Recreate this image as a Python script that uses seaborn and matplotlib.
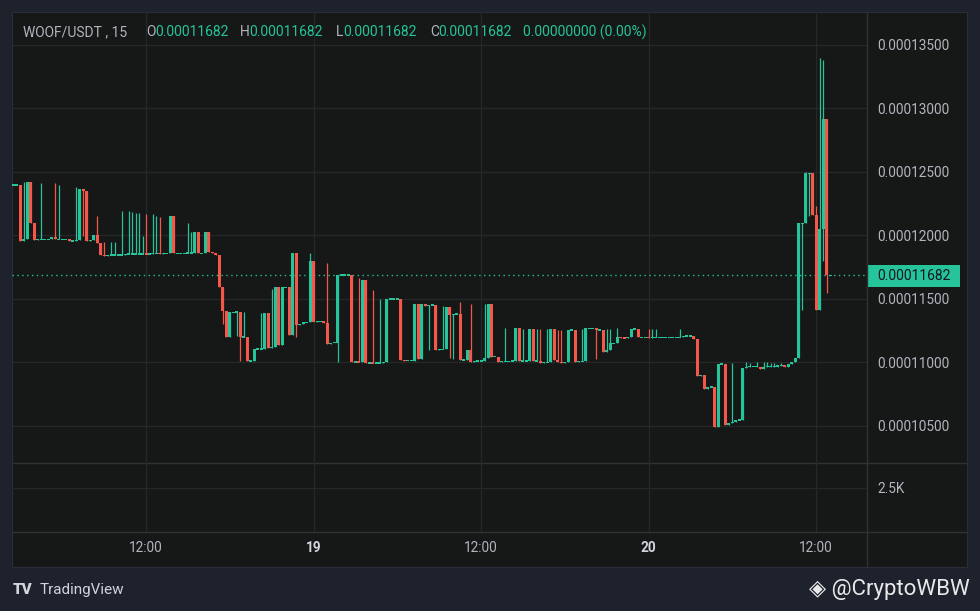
import numpy as np
import pandas as pd
import seaborn as sns
import matplotlib.pyplot as plt
import matplotlib.dates as mdates
from matplotlib.patches import Rectangle

# WOOF/USDT 15 min candles, first bar 18th 02:30, prices in units of 1e-8 USDT
first_open_e8 = 12394
closes_e8 = [
    12394, 12394, 11955, 11969, 12417, 12097, 11961, 11966, 11966, 11966,
    11966, 11987, 11966, 11966, 11966, 11966, 11955, 11955, 11961, 12362,
    12346, 11955, 11958, 12000, 11939, 11843, 11835, 11843, 11843, 11843,
    11843, 11845, 11850, 11850, 11850, 11850, 11850, 11850, 11848, 11850,
    11856, 11856, 11852, 11856, 11856, 12150, 11856, 11856, 11856, 11856,
    11858, 11858, 12024, 11856, 11856, 12024, 11868, 11858, 11845, 11593,
    11404, 11199, 11391, 11391, 11393, 11194, 11199, 11010, 11010, 11102,
    11102, 11104, 11388, 11108, 11120, 11588, 11134, 11588, 11588, 11213,
    11856, 11291, 11299, 11313, 11313, 11795, 11318, 11320, 11320, 11309,
    11142, 11152, 11152, 11685, 11685, 11685, 11685, 11002, 11002, 11000,
    11646, 10994, 10994, 10990, 10994, 10994, 10998, 11496, 11496, 11496,
    11496, 11016, 11010, 11012, 11012, 11457, 11024, 11457, 11443, 11449,
    11449, 11094, 11100, 11100, 11435, 11370, 11378, 11378, 11016, 11016,
    11094, 11002, 11008, 11008, 11008, 11029, 11457, 11042, 11042, 11002,
    11005, 11005, 11005, 11008, 11265, 11008, 11008, 11008, 11260, 11008,
    11008, 10994, 10998, 10998, 11260, 11016, 11002, 10994, 10998, 11252,
    11252, 11002, 11005, 11005, 11265, 11265, 11265, 11252, 11255, 11081,
    11094, 11147, 11147, 11194, 11192, 11190, 11194, 11260, 11260, 11194,
    11194, 11194, 11192, 11194, 11194, 11194, 11194, 11194, 11194, 11194,
    11194, 11196, 11205, 11205, 11205, 11181, 10892, 10895, 10787, 10803,
    10803, 10491, 10984, 10984, 10504, 10517, 10530, 10543, 10543, 10950,
    10963, 10963, 10963, 10963, 10945, 10963, 10963, 10963, 10963, 10971,
    10971, 10963, 10984, 10998, 11029, 12092, 12092, 12486, 12486, 12157,
    11409, 12045, 12913, 11682, 11682,
]
# wick tips that reach past the body (bar index -> price)
upper_wicks_e8 = {
    3: 12417, 8: 12412, 12: 12412, 13: 12394, 18: 12380, 24: 12150, 26: 11947,
    28: 11947, 29: 11947, 31: 12191, 33: 12191, 34: 12183, 35: 12176, 36: 12176,
    37: 11994, 38: 12165, 40: 12165, 41: 12150, 42: 12144, 50: 12092, 51: 12024,
    66: 11394, 71: 11388, 74: 11575, 85: 11856, 90: 11780, 99: 11659, 103: 11567,
    105: 11496, 123: 11441, 128: 11472, 131: 11457, 135: 11457, 141: 11268,
    146: 11257, 150: 11260, 151: 11260, 153: 11260, 156: 11252, 157: 11252,
    163: 11260, 170: 11260, 171: 11260, 173: 11265, 182: 11260, 183: 11260,
    184: 11260, 191: 11260, 206: 10990, 210: 10998, 211: 10990, 213: 10998,
    215: 10998, 216: 10998, 217: 10990, 218: 10990, 220: 10990, 227: 12494,
    230: 12228, 231: 13391, 232: 13378,
}
lower_wicks_e8 = {
    20: 11992, 60: 11299, 64: 11205, 65: 11010, 81: 11197, 93: 11002,
    119: 11094, 125: 11029, 126: 11024, 167: 11024, 226: 11409, 228: 12152,
    232: 11798, 233: 11546,
}
price_ticks = [0.000105, 0.00011, 0.000115, 0.00012, 0.000125, 0.00013, 0.000135]
time_ticks = ['2024-11-18 12:00', '2024-11-19 00:00', '2024-11-19 12:00',
              '2024-11-20 00:00', '2024-11-20 12:00']
time_labels = ['12:00', '19', '12:00', '20', '12:00']
volume_ticks = [2500]
volume_labels = ['2.5K']

UP = '#25c49a'
DOWN = '#f5574a'
PANEL = '#161717'
OUTER = '#1e222d'
GRID = '#262828'
SEP = '#303232'
TXT = '#b2b5be'

sns.set_theme(style='dark', rc={'figure.facecolor': OUTER, 'axes.facecolor': 'none'})
plt.rcParams['font.family'] = ['Roboto', 'DejaVu Sans']

closes = np.array(closes_e8) * 1e-8
opens = np.r_[first_open_e8 * 1e-8, closes[:-1]]
highs = np.maximum(opens, closes)
lows = np.minimum(opens, closes)
for i, v in upper_wicks_e8.items():
    highs[i] = max(highs[i], v * 1e-8)
for i, v in lower_wicks_e8.items():
    lows[i] = min(lows[i], v * 1e-8)
times = pd.date_range('2024-11-18 02:30', periods=len(closes), freq='15min')
df = pd.DataFrame({'time': times, 'open': opens, 'high': highs, 'low': lows, 'close': closes})
x = mdates.date2num(df['time'])

fig = plt.figure(figsize=(9.8, 6.11), dpi=100)

# background panel drawn in pixel coordinates
bg = fig.add_axes([0, 0, 1, 1])
bg.set_xlim(0, 980)
bg.set_ylim(611, 0)
bg.axis('off')
bg.add_patch(Rectangle((12, 12), 955, 555, fc=PANEL, ec='#2a2e39', lw=0.8))
bg.plot([867, 867], [12, 567], color=SEP, lw=1)
bg.plot([12, 967], [463, 463], color=SEP, lw=1)
bg.plot([12, 967], [532, 532], color=SEP, lw=1)

# price pane
ax = fig.add_axes([12 / 980, 1 - 463 / 611, 855 / 980, 451 / 611])
ax.set_facecolor('none')
t0 = mdates.date2num(pd.Timestamp('2024-11-18 12:00'))
hour = 1 / 24
ax.set_xlim(t0 - 9.6 * hour, t0 + 51.65 * hour)
ax.set_ylim(10205e-8, 13756e-8)

up = df['close'] >= df['open']
colors = np.where(up, UP, DOWN)
min_h = 12e-8
body = (df['close'] - df['open']).abs().to_numpy()
mid = ((df['open'] + df['close']) / 2).to_numpy()
body_h = np.maximum(body, min_h)
body_lo = np.where(body < min_h, mid - min_h / 2, np.minimum(df['open'], df['close']))
ax.vlines(x, df['low'], df['high'], colors=colors, lw=0.9, zorder=3)
ax.bar(x, body_h, bottom=body_lo, width=0.215 * hour, color=colors, linewidth=0, zorder=4)

last = df.iloc[-1]
ax.axhline(last['close'], color=UP, lw=1, ls=(0, (1, 2.5)), zorder=2)

tick_dates = mdates.date2num(pd.to_datetime(time_ticks))
ax.set_xticks(tick_dates)
ax.set_yticks(price_ticks)
ax.set_yticklabels([f'{p:.8f}' for p in price_ticks])
ax.yaxis.tick_right()
ax.tick_params(axis='y', length=0, pad=7.2, labelcolor=TXT, labelsize=9.8)
ax.tick_params(axis='x', length=0, labelbottom=False)
ax.grid(True, color=GRID, lw=0.9)
for s in ax.spines.values():
    s.set_visible(False)

# volume pane (empty apart from its scale)
vax = fig.add_axes([12 / 980, 1 - 532 / 611, 855 / 980, 69 / 611])
vax.set_facecolor('none')
vax.set_xlim(ax.get_xlim())
vax.set_ylim(0, 3920)
vax.set_yticks(volume_ticks)
vax.set_yticklabels(volume_labels)
vax.yaxis.tick_right()
vax.tick_params(axis='y', length=0, pad=7.2, labelcolor=TXT, labelsize=9.8)
vax.set_xticks(tick_dates)
vax.set_xticklabels(time_labels)
vax.tick_params(axis='x', length=0, pad=6.8, labelcolor=TXT, labelsize=9.8)
for lab in vax.get_xticklabels():
    if ':' not in lab.get_text():
        lab.set_fontweight('bold')
        lab.set_color('#d1d4dc')
vax.grid(True, color=GRID, lw=0.9)
for s in vax.spines.values():
    s.set_visible(False)

# legend line on top
chg = last['close'] - last['open']
pct = chg / last['open'] * 100
fs = 10
bg.text(23, 32, 'WOOF/USDT , 15', color=TXT, fontsize=fs, va='center')
items = [('O', last['open'], 146, 155), ('H', last['high'], 240, 249),
         ('L', last['low'], 336, 343), ('C', last['close'], 430, 438)]
for letter, val, px, vx in items:
    bg.text(px, 32, letter, color=TXT, fontsize=fs, va='center')
    bg.text(vx, 32, f'{val:.8f}', color=UP, fontsize=fs, va='center')
bg.text(523, 32, f'{chg:.8f} ({pct:.2f}%)', color=UP, fontsize=fs, va='center')

# last price label on the scale
bg.add_patch(Rectangle((867, 265), 93, 22, fc=UP, ec='none'))
bg.text(877, 276.5, f"{last['close']:.8f}", color='#131722', fontsize=fs, va='center')

# footer
bg.text(13, 590, 'TV', color='#d1d4dc', fontsize=11, fontweight='heavy', va='center')
bg.text(40, 590, 'TradingView', color='#d1d4dc', fontsize=11, va='center')
bg.text(970, 589, '◈ @CryptoWBW', color='white', fontsize=16, va='center', ha='right', alpha=0.9)

fig.savefig('out.png', dpi=100, facecolor=OUTER)
